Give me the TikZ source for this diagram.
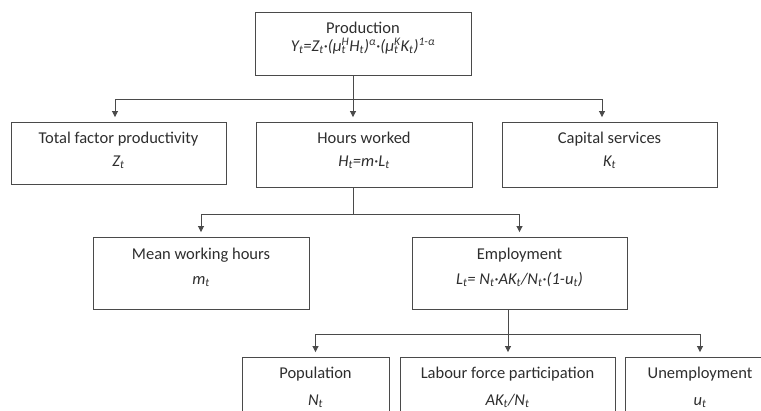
\documentclass[tikz,border=0pt]{standalone}
\usepackage{fontspec}
\setmainfont{Carlito}
\usetikzlibrary{arrows.meta}
\definecolor{txt}{HTML}{2E2E2E}
\definecolor{lnc}{HTML}{4A4A4A}
\newcommand{\sbsp}[2]{\makebox[0pt][l]{\textsubscript{#1}}\textsuperscript{#2}}
\begin{document}
\begin{tikzpicture}[x=1pt,y=-1pt,
  box/.style={draw=lnc, line width=0.9pt, rectangle, inner sep=0pt},
  lbl/.style={text=txt, font=\fontsize{16.5}{19}\selectfont, inner sep=0pt, anchor=mid},
  fml/.style={lbl, font=\fontsize{16.5}{19}\selectfont\itshape},
  conn/.style={draw=lnc, line width=0.9pt},
  arr/.style={conn, -{Triangle[length=6pt,width=6pt]}, shorten >=4.5pt}]
\clip (0,0) rectangle (761,410);
% boxes
\node[box, minimum width=216pt, minimum height=63pt] (prod) at (363,43.5) {};
\node[box, minimum width=215pt, minimum height=62pt] (tfp) at (118.5,153) {};
\node[box, minimum width=216pt, minimum height=65pt] (hours) at (364,154.5) {};
\node[box, minimum width=215pt, minimum height=65pt] (cap) at (609.5,154.5) {};
\node[box, minimum width=216pt, minimum height=72pt] (mean) at (201,273) {};
\node[box, minimum width=215pt, minimum height=72pt] (emp) at (519.5,273) {};
\node[box, minimum width=147pt, minimum height=73pt] (pop) at (315.5,393.5) {};
\node[box, minimum width=215pt, minimum height=73pt] (lab) at (507.5,393.5) {};
\node[box, minimum width=150pt, minimum height=73pt] (unemp) at (700,393.5) {};
% texts
\node[lbl] (prodT) at (363,31) {Production};
\node[fml] (prodF) at (363,49) {Y\textsubscript{t}=Z\textsubscript{t}·(μ\sbsp{t}{H}H\textsubscript{t})\textsuperscript{α}·(μ\sbsp{t}{K}K\textsubscript{t})\textsuperscript{1-α}};
\node[lbl] (tfpT) at (118.5,141) {Total factor productivity};
\node[fml] (tfpF) at (118.5,164) {Z\textsubscript{t}};
\node[lbl] (hoursT) at (364,141) {Hours worked};
\node[fml] (hoursF) at (364,164) {H\textsubscript{t}=m·L\textsubscript{t}};
\node[lbl] (capT) at (609.5,141) {Capital services};
\node[fml] (capF) at (609.5,164) {K\textsubscript{t}};
\node[lbl] (meanT) at (201,257) {Mean working hours};
\node[fml] (meanF) at (201,282) {m\textsubscript{t}};
\node[lbl] (empT) at (519.5,257) {Employment};
\node[fml] (empF) at (519.5,282) {L\textsubscript{t}= N\textsubscript{t}·AK\textsubscript{t}/N\textsubscript{t}·(1-u\textsubscript{t})};
\node[lbl] (popT) at (315.5,376) {Population};
\node[fml] (popF) at (315.5,403) {N\textsubscript{t}};
\node[lbl] (labT) at (507.5,376) {Labour force participation};
\node[fml] (labF) at (507.5,403) {AK\textsubscript{t}/N\textsubscript{t}};
\node[lbl] (unempT) at (700,376) {Unemployment};
\node[fml] (unempF) at (700,403) {u\textsubscript{t}};
% connectors
\coordinate (j1) at (353,99);
\coordinate (j2) at (353,214);
\coordinate (j3) at (508,334);
\draw[conn] (prod.south -| j1) -- (j1);
\draw[arr] (j1) -| ([xshift=-3.5pt]tfp.north);
\draw[arr] (j1) -- (hours.north -| j1);
\draw[arr] (j1) -| ([xshift=-7.5pt]cap.north);
\draw[conn] (hours.south -| j2) -- (j2);
\draw[arr] (j2) -| (mean.north);
\draw[arr] (j2) -| (emp.north);
\draw[conn] (emp.south -| j3) -- (j3);
\draw[arr] (j3) -| (pop.north);
\draw[arr] (j3) -- (lab.north -| j3);
\draw[arr] (j3) -| (unemp.north);
\end{tikzpicture}
\end{document}
